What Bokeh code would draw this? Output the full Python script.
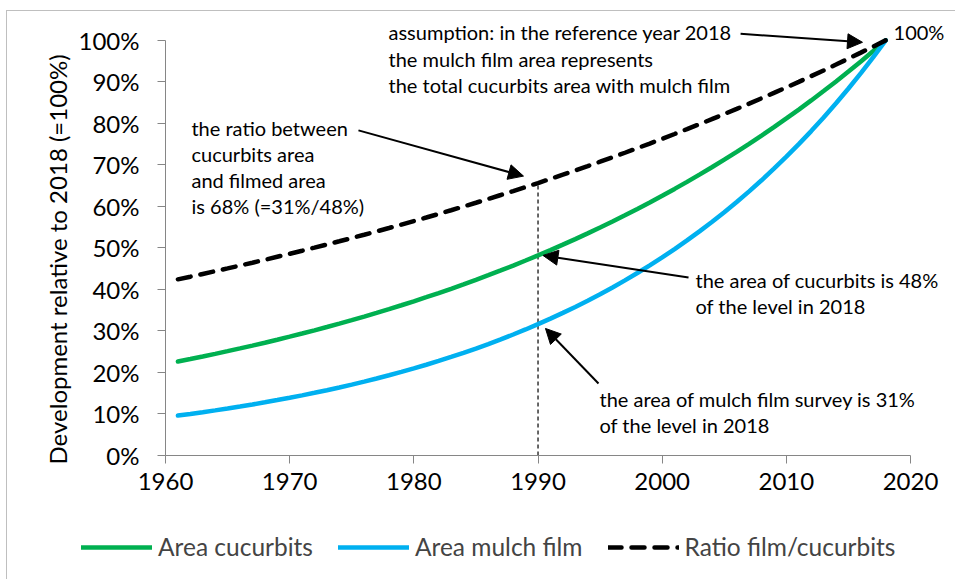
from bokeh.plotting import figure
from bokeh.layouts import column
from bokeh.models import (Range1d, FixedTicker, PrintfTickFormatter, Label, Arrow, Title,
                          NormalHead, Legend, LegendItem, ColumnDataSource)
from bokeh.embed import file_html
from bokeh.resources import INLINE

# values, 1961..2018, percent of 2018 level
years = list(range(1961, 2019))
area_cucurbits = [22.64, 23.24, 23.85, 24.48, 25.13, 25.79, 26.47, 27.17, 27.89, 28.62,
                  29.38, 30.15, 30.95, 31.77, 32.60, 33.47, 34.35, 35.26, 36.19, 37.14,
                  38.12, 39.13, 40.16, 41.22, 42.31, 43.43, 44.58, 45.75, 46.96, 48.20,
                  49.47, 50.78, 52.12, 53.50, 54.91, 56.36, 57.85, 59.38, 60.94, 62.55,
                  64.21, 65.90, 67.64, 69.43, 71.26, 73.14, 75.07, 77.06, 79.09, 81.18,
                  83.32, 85.52, 87.78, 90.10, 92.48, 94.92, 97.43, 100.0]
area_mulch = [9.61, 10.01, 10.43, 10.87, 11.32, 11.80, 12.29, 12.81, 13.35, 13.91,
              14.49, 15.10, 15.73, 16.39, 17.08, 17.80, 18.54, 19.32, 20.13, 20.98,
              21.86, 22.77, 23.73, 24.72, 25.76, 26.84, 27.97, 29.14, 30.36, 31.64,
              32.96, 34.35, 35.79, 37.29, 38.85, 40.48, 42.18, 43.95, 45.79, 47.71,
              49.72, 51.80, 53.98, 56.24, 58.60, 61.06, 63.62, 66.29, 69.08, 71.97,
              74.99, 78.14, 81.42, 84.84, 88.40, 92.11, 95.97, 100.0]
ratio_film = [42.43, 43.07, 43.73, 44.39, 45.06, 45.75, 46.44, 47.14, 47.86, 48.58,
              49.32, 50.07, 50.83, 51.60, 52.38, 53.17, 53.98, 54.79, 55.62, 56.47,
              57.32, 58.19, 59.07, 59.97, 60.88, 61.80, 62.74, 63.69, 64.65, 65.63,
              66.63, 67.64, 68.66, 69.70, 70.76, 71.83, 72.92, 74.02, 75.14, 76.28,
              77.44, 78.61, 79.80, 81.01, 82.24, 83.49, 84.75, 86.04, 87.34, 88.66,
              90.00, 91.37, 92.75, 94.16, 95.59, 97.04, 98.51, 100.0]

series_names = ["Area cucurbits", "Area mulch film", "Ratio film/cucurbits"]
x_ticks = [1960, 1970, 1980, 1990, 2000, 2010, 2020]
y_ticks = [0, 10, 20, 30, 40, 50, 60, 70, 80, 90, 100]
ref_year = 1990

FONT = "Lato"
GREEN = "#00B050"
BLUE = "#00B0F0"
AXIS = "#868686"
FRAME = "#BFBFBF"
DASH = "13 10"

p = figure(width=955, height=512, output_backend="svg", toolbar_location=None,
           x_range=Range1d(1960, 2023.62), y_range=Range1d(0, 106.7),
           min_border_left=165, min_border_right=0, min_border_top=12,
           min_border_bottom=57)
p.frame_align = False
p.grid.visible = False
p.outline_line_color = None
p.background_fill_color = None
p.border_fill_color = None

for ax in (p.xaxis[0], p.yaxis[0]):
    ax.axis_line_color = AXIS
    ax.major_tick_line_color = AXIS
    ax.major_tick_out = 8
    ax.major_tick_in = 0
    ax.minor_tick_line_color = None
    ax.major_label_text_font = FONT
    ax.major_label_text_font_size = "24px"
    ax.major_label_text_color = "black"

p.xaxis.ticker = FixedTicker(ticks=x_ticks)
p.yaxis.ticker = FixedTicker(ticks=y_ticks)
p.xaxis.bounds = (1960, 2020)
p.yaxis.bounds = (0, 100)
p.yaxis.formatter = PrintfTickFormatter(format="%d%%")
p.xaxis.major_label_standoff = 9
p.yaxis.major_label_standoff = 18

p.add_layout(Title(text="Development relative to 2018 (=100%)", align="left", offset=-9,
                   text_font=FONT, text_font_size="24px", text_font_style="normal",
                   text_color="black", standoff=8), "left")

src = ColumnDataSource(dict(year=years, green=area_cucurbits, blue=area_mulch, ratio=ratio_film))

# vertical reference line at 1990
ri = years.index(ref_year)
p.line([ref_year, ref_year], [0, ratio_film[ri]], line_color="black", line_width=1.2,
       line_dash="4 3")

p.line("year", "green", source=src, line_color=GREEN, line_width=4.5, line_cap="round")
p.line("year", "blue", source=src, line_color=BLUE, line_width=4.5, line_cap="round")
p.line("year", "ratio", source=src, line_color="black", line_width=4.5,
       line_dash=DASH, line_cap="round")

def lbl(x, y, t):
    p.add_layout(Label(x=x, y=y, text=t, text_font=FONT, text_font_size="20px",
                       text_baseline="middle", text_align="left", text_color="black"))

for i, t in enumerate(["assumption: in the reference year 2018",
                       "the mulch film area represents",
                       "the total cucurbits area with mulch film"]):
    lbl(1977.96, 101.9 - i * 6.3, t)
lbl(2018.63, 101.9, "100%")
for i, t in enumerate(["the ratio between", "cucurbits area", "and filmed area",
                       "is 68% (=31%/48%)"]):
    lbl(1962.09, 79.0 - i * 6.27, t)
for i, t in enumerate(["the area of cucurbits is 48%", "of the level  in 2018"]):
    lbl(2002.68, 42.2 - i * 6.3, t)
for i, t in enumerate(["the area of mulch film survey is 31%", "of the level  in 2018"]):
    lbl(1994.95, 13.7 - i * 6.4, t)

def arrow(x0, y0, x1, y1):
    p.add_layout(Arrow(x_start=x0, y_start=y0, x_end=x1, y_end=y1, line_width=2,
                       line_color="black",
                       end=NormalHead(size=15, fill_color="black", line_color="black")))

arrow(2006.31, 101.57, 2016.13, 99.52)
arrow(1975.54, 78.31, 1988.83, 67.3)
arrow(2002.12, 42.89, 1990.4, 48.19)
arrow(1994.87, 17.35, 1990.6, 30.6)

# legend strip (same series, drawn off-view so only the legend shows)
p2 = figure(width=955, height=67, output_backend="svg", toolbar_location=None,
            x_range=Range1d(0, 1), y_range=Range1d(0, 1),
            x_axis_location=None, y_axis_location=None,
            min_border_left=0, min_border_right=0, min_border_top=0, min_border_bottom=0)
p2.frame_align = False
p2.grid.visible = False
p2.outline_line_color = None
p2.background_fill_color = None
p2.border_fill_color = None
l_g = p2.line(years, area_cucurbits, line_color=GREEN, line_width=4.5, line_cap="round")
l_b = p2.line(years, area_mulch, line_color=BLUE, line_width=4.5, line_cap="round")
l_r = p2.line(years, ratio_film, line_color="black", line_width=4.5, line_dash=DASH,
              line_cap="round")
legend = Legend(items=[LegendItem(label=series_names[0], renderers=[l_g]),
                       LegendItem(label=series_names[1], renderers=[l_b]),
                       LegendItem(label=series_names[2], renderers=[l_r])],
                orientation="horizontal", location=(81, 18),
                glyph_width=71, glyph_height=20, label_standoff=6, spacing=25,
                label_text_font=FONT, label_text_font_size="24.5px",
                border_line_color=None, background_fill_alpha=0,
                padding=0, margin=0)
p2.add_layout(legend, "center")

chart_border = (f"linear-gradient({FRAME},{FRAME}) 6px 10px / 1px 100% no-repeat, "
                f"linear-gradient({FRAME},{FRAME}) 6px 10px / 100% 1px no-repeat, white")
layout = column(p, p2, spacing=0, styles={"background": chart_border})

open("out.html", "w").write(file_html(layout, INLINE))
